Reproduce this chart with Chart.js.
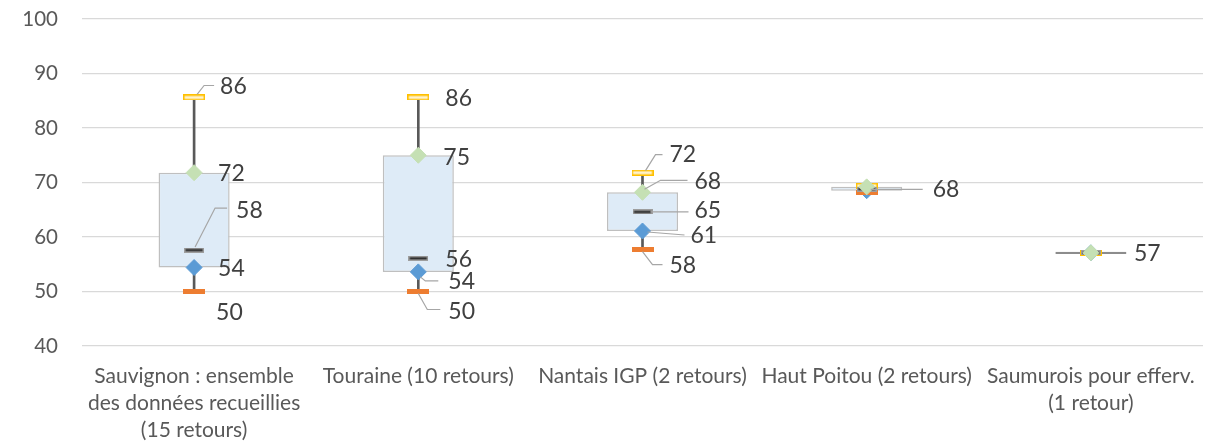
<!DOCTYPE html>
<html>
<head>
<meta charset="utf-8">
<script src="https://cdn.jsdelivr.net/npm/chart.js@4.4.0/dist/chart.umd.min.js"></script>
<style>
html, body { margin: 0; padding: 0; background: #fff; }
#wrap { width: 1212px; height: 441px; }
</style>
</head>
<body>
<div id="wrap"><canvas id="boxes"></canvas></div>
<script>
// categories and values
const categories = [
    ["Sauvignon : ensemble", "des données recueillies", "(15 retours)"],
    "Touraine (10 retours)",
    "Nantais IGP (2 retours)",
    "Haut Poitou (2 retours)",
    ["Saumurois pour efferv.", "(1 retour)"]
];
const minVals    = [50.0, 50.0, 57.7, 68.2, 57.1];
const q1Vals     = [54.4, 53.6, 61.1, 68.5, 57.1];
const medianVals = [57.6, 56.1, 64.6, 68.8, 57.1];
const q3Vals     = [71.8, 75.0, 68.2, 69.2, 57.1];
const maxVals    = [85.6, 85.6, 71.8, 69.4, 57.1];
const yTicks = [40, 50, 60, 70, 80, 90, 100];

// label placement: [dx, dy, leader points] per series, null = no label
const labelPos = {
    max:    [[26, -11, [[3, -3], [10, -12], [20, -12]]], [27, 1], [27, -18, [[3, -2], [13, -18], [20, -18]]], null, null],
    q3:     [[24, 1], [25, 2], [52, -11, [[2, -3], [18, -12], [45, -12]]], null, null],
    median: [[42, -40, [[1, -3], [21, -42], [33, -42]]], [27, 1], [52, -1, [[8, 0], [46, 0]]], null, [43, 1]],
    q1:     [[24, 1], [30, 10, [[2, 5], [7, 9], [20, 9]]], [48, 5, [[5, 1], [42, 4]]], null, null],
    min:    [[22, 21], [30, 20, [[0, 2], [9, 18], [22, 18]]], [27, 16, [[0, 2], [10, 15], [20, 15]]], [66, -3, [[4, -3], [56, -3]]], null]
};

function dash(w, h, fill, stroke) {
    const c = document.createElement('canvas');
    c.width = w; c.height = h;
    const g = c.getContext('2d');
    g.fillStyle = fill;
    g.fillRect(0, 0, w, h);
    if (stroke) {
        g.strokeStyle = stroke;
        g.lineWidth = 1.5;
        g.strokeRect(0.75, 0.75, w - 1.5, h - 1.5);
    }
    return c;
}
const yellowDash = dash(22, 6, '#FFF2CC', '#FFC000');
const orangeDash = dash(22, 5, '#ED7D31');
const blackDash = dash(20, 5, '#262626', '#9E9E9E');

const labelsPlugin = {
    id: 'valueLabels',
    afterDatasetsDraw(chart) {
        const ctx = chart.ctx;
        ctx.save();
        ctx.font = '23px Lato';
        ctx.fillStyle = '#404040';
        ctx.textBaseline = 'middle';
        ctx.textAlign = 'left';
        chart.data.datasets.forEach((ds, di) => {
            const pos = labelPos[ds.key];
            if (!pos) return;
            const meta = chart.getDatasetMeta(di);
            meta.data.forEach((pt, i) => {
                const p = pos[i];
                if (!p) return;
                if (p[2]) {
                    ctx.beginPath();
                    ctx.strokeStyle = '#A6A6A6';
                    ctx.lineWidth = 1.2;
                    p[2].forEach((q, k) => {
                        if (k === 0) ctx.moveTo(pt.x + q[0], pt.y + q[1]);
                        else ctx.lineTo(pt.x + q[0], pt.y + q[1]);
                    });
                    ctx.stroke();
                }
                ctx.fillText(Math.round(ds.data[i]), pt.x + p[0], pt.y + p[1]);
            });
        });
        ctx.restore();
    }
};

function markers(key, data, style, radius, color, order) {
    return {
        type: 'line',
        key: key,
        data: data,
        showLine: false,
        pointStyle: style,
        pointRadius: radius,
        pointBackgroundColor: color,
        pointBorderColor: color,
        pointBorderWidth: 1,
        order: order
    };
}

const ctx = document.getElementById('boxes').getContext('2d');
new Chart(ctx, {
    type: 'bar',
    data: {
        labels: categories,
        datasets: [
            {
                label: 'whisker',
                data: minVals.map((v, i) => [v, maxVals[i]]),
                backgroundColor: '#595959',
                barThickness: 2,
                grouped: false,
                order: 10
            },
            {
                label: 'box',
                data: q1Vals.map((v, i) => q3Vals[i] === v ? [v - 0.2, v + 0.2] : [v, q3Vals[i]]),
                backgroundColor: q1Vals.map((v, i) => q3Vals[i] === v ? '#8C8C8C' : '#DEEBF7'),
                borderColor: q1Vals.map((v, i) => q3Vals[i] === v ? '#8C8C8C' : '#BFBFBF'),
                borderWidth: 1.5,
                borderSkipped: false,
                barPercentage: 0.317,
                categoryPercentage: 1,
                grouped: false,
                order: 9
            },
            markers('q1', q1Vals, 'rectRot', 8, '#5B9BD5', 6),
            markers('min', minVals, orangeDash, 8, '#ED7D31', 5),
            markers('max', maxVals, yellowDash, 8, '#FFC000', 4),
            markers('median', medianVals, blackDash, 8, '#262626', 3),
            markers('q3', q3Vals, 'rectRot', 8, '#C5E0B4', 2)
        ]
    },
    options: {
        responsive: true,
        maintainAspectRatio: false,
        animation: false,
        layout: { padding: { top: 0, right: 7, left: 0, bottom: 0 } },
        plugins: {
            legend: { display: false },
            tooltip: { enabled: false }
        },
        scales: {
            x: {
                grid: { display: false },
                border: { display: false },
                ticks: {
                    color: '#595959',
                    font: { family: 'Lato', size: 21, lineHeight: 1.29 },
                    padding: 9,
                    maxRotation: 0,
                    autoSkip: false
                },
                afterFit(scale) { scale.height = 95; }
            },
            y: {
                min: 40,
                max: 100,
                afterBuildTicks(scale) { scale.ticks = yTicks.map(v => ({ value: v })); },
                grid: { color: '#D9D9D9', lineWidth: 1.3, drawTicks: false },
                border: { display: false },
                ticks: {
                    color: '#595959',
                    font: { family: 'Lato', size: 20.5 },
                    padding: 24
                },
                afterFit(scale) {
                    scale.width = 82;
                    scale.paddingTop = 19;
                    scale.paddingBottom = 0;
                }
            }
        }
    },
    plugins: [labelsPlugin]
});
</script>
</body>
</html>
